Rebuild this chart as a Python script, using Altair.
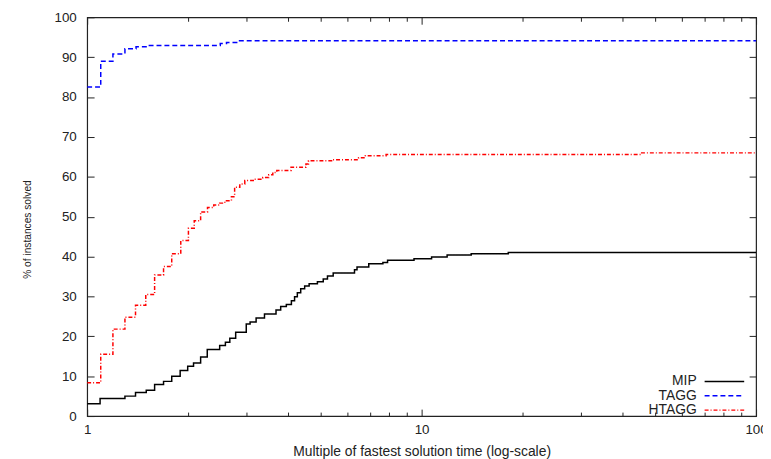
import altair as alt
import pandas as pd

series_names = ["MIP", "TAGG", "HTAGG"]
series_colors = ["#000000", "#0000ff", "#ff0000"]
series_dashes = [[1, 0], [5, 3], [4, 2, 1, 2]]

mip_t = [1, 1.093, 1.297, 1.395, 1.502, 1.591, 1.692, 1.79, 1.897, 1.998, 2.08, 2.184,
         2.286, 2.49, 2.59, 2.67, 2.78, 2.99, 3.07, 3.20, 3.39, 3.67, 3.79, 3.94, 4.08,
         4.17, 4.25, 4.35, 4.47, 4.61, 4.88, 5.08, 5.23, 5.44, 6.30, 6.41, 6.95, 7.66,
         7.91, 9.49, 10.71, 11.92, 14.07, 18.16, 100]
mip_v = [3.1, 4.4, 5.0, 5.9, 6.45, 7.9, 8.7, 10.0, 11.4, 12.5, 13.3, 14.8,
         16.7, 17.7, 18.5, 19.5, 21.0, 23.1, 23.6, 24.6, 25.6, 26.6, 27.5, 28.0, 28.9,
         29.9, 30.9, 31.9, 32.6, 33.2, 33.7, 34.4, 35.1, 35.9, 36.7, 37.4, 38.2, 38.5,
         39.1, 39.45, 39.9, 40.4, 40.7, 41.0, 41.0]

tagg_t = [1, 1.098, 1.194, 1.297, 1.40, 1.51, 2.50, 2.61, 2.825, 100]
tagg_v = [82.5, 89.0, 90.8, 92.1, 92.6, 92.9, 93.4, 93.7, 94.1, 94.1]

htagg_t = [1, 1.098, 1.194, 1.297, 1.395, 1.497, 1.591, 1.692, 1.79, 1.905, 2.008, 2.09,
           2.184, 2.29, 2.39, 2.49, 2.58, 2.70, 2.76, 2.86, 2.96, 3.16, 3.35, 3.49, 3.59,
           3.69, 4.07, 4.51, 4.59, 5.41, 6.48, 6.79, 7.83, 45.5, 100]
htagg_v = [8.35, 15.5, 21.8, 24.8, 27.8, 30.5, 35.4, 37.5, 40.7, 44.0, 47.1, 49.0,
           51.2, 52.3, 52.9, 53.4, 54.0, 55.0, 57.4, 58.2, 59.06, 59.4, 59.8, 60.5, 61.1,
           61.6, 62.4, 63.2, 64.0, 64.3, 64.8, 65.3, 65.6, 66.0, 66.0]

y_ticks = [0, 10, 20, 30, 40, 50, 60, 70, 80, 90, 100]
x_major = [1, 10, 100]
x_minor = [2, 3, 4, 5, 6, 7, 8, 9, 20, 30, 40, 50, 60, 70, 80, 90]

rows = []
for name, ts, vs in [("MIP", mip_t, mip_v), ("TAGG", tagg_t, tagg_v), ("HTAGG", htagg_t, htagg_v)]:
    for t, v in zip(ts, vs):
        rows.append({"series": name, "t": t, "v": v})
df = pd.DataFrame(rows)

FONT = "Liberation Sans"
INK = "#222222"

xscale = alt.Scale(type="log", domain=[1, 100])
yscale = alt.Scale(domain=[0, 100])


def x_axis(orient, values, size, labels, title=None):
    return alt.Axis(orient=orient, values=values, tickSize=size, offset=-size,
                    labels=labels, domain=False, grid=False, title=title,
                    labelFlush=False, format="~g", labelPadding=7,
                    labelFontSize=13.5, labelFont=FONT, labelColor=INK,
                    titleFontSize=14, titleFont=FONT, titleFontWeight="normal",
                    titleColor=INK, titlePadding=8.5, tickColor=INK, tickWidth=1)


def y_axis(orient, labels, title=None):
    return alt.Axis(orient=orient, values=y_ticks, tickSize=7, offset=-7,
                    labels=labels, domain=False, grid=False, title=title,
                    labelFlush=False, labelPadding=11,
                    labelFontSize=13.5, labelFont=FONT, labelColor=INK,
                    titleFontSize=10.3, titleFont=FONT, titleFontWeight="normal",
                    titleColor=INK, titlePadding=22, titleY=214,
                    tickColor=INK, tickWidth=1)


# a horizontal stroke drawn to the right of the entry, so the label sits on its left
legend_symbol = "M3,0H11"

legend = alt.Legend(orient="none", legendX=602, legendY=361, title=None,
                    direction="vertical", symbolType=legend_symbol, symbolSize=100,
                    symbolStrokeWidth=1.5, labelAlign="right", labelOffset=0,
                    labelFontSize=14, labelFont=FONT, labelColor=INK,
                    rowPadding=0.5, padding=0)

base = alt.Chart(df)

lines = base.mark_line(interpolate="step-after", strokeWidth=1.5, clip=True).encode(
    x=alt.X("t:Q", scale=xscale,
            axis=x_axis("bottom", x_major, 7, True, "Multiple of fastest solution time (log-scale)")),
    y=alt.Y("v:Q", scale=yscale, axis=y_axis("left", True, "% of instances solved")),
    color=alt.Color("series:N", sort=series_names,
                    scale=alt.Scale(domain=series_names, range=series_colors), legend=legend),
    strokeDash=alt.StrokeDash("series:N", sort=series_names,
                              scale=alt.Scale(domain=series_names, range=series_dashes),
                              legend=legend),
)

ghost2 = base.mark_line(opacity=0).encode(
    x=alt.X("t:Q", scale=xscale, axis=x_axis("bottom", x_minor, 4, False)),
    y=alt.Y("v:Q", scale=yscale, axis=y_axis("right", False)),
    detail="series:N",
)
ghost3 = base.mark_line(opacity=0).encode(
    x=alt.X("t:Q", scale=xscale, axis=x_axis("top", x_major, 7, False)),
    y=alt.Y("v:Q", scale=yscale, axis=None),
    detail="series:N",
)
ghost4 = base.mark_line(opacity=0).encode(
    x=alt.X("t:Q", scale=xscale, axis=x_axis("top", x_minor, 4, False)),
    y=alt.Y("v:Q", scale=yscale, axis=None),
    detail="series:N",
)

chart = alt.layer(lines, ghost2, ghost3, ghost4).resolve_axis(
    x="independent", y="independent"
).properties(
    width=676, height=403,
    autosize=alt.AutoSizeParams(type="none"),
    padding={"left": 80, "top": 7, "right": 7, "bottom": 41},
    background="white",
).configure_view(stroke=INK, strokeWidth=1.2)

chart.save("out.html", embed_options={"renderer": "svg", "actions": False})
